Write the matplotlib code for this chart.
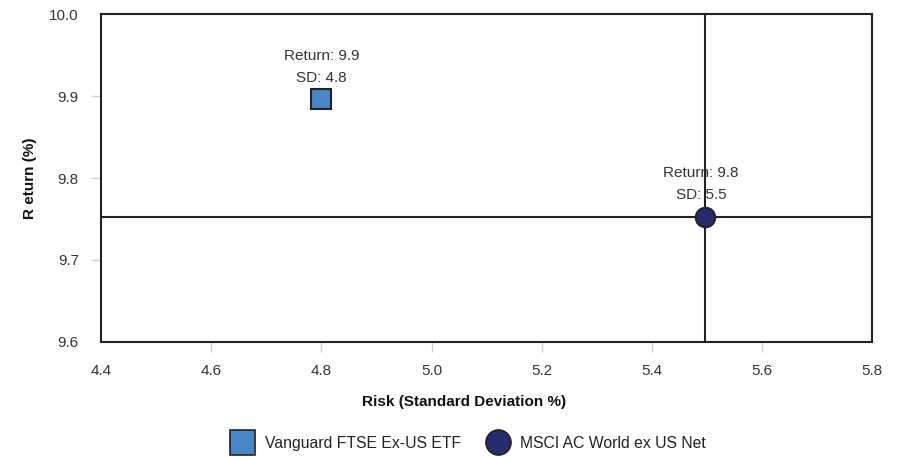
import matplotlib.pyplot as plt
from matplotlib.lines import Line2D

plt.rcParams['font.family'] = ['Liberation Sans', 'DejaVu Sans']

# ---- data ----
names = ["Vanguard FTSE Ex-US ETF", "MSCI AC World ex US Net"]
risk = [4.8, 5.497]
ret = [9.896, 9.753]
markers = ["s", "o"]
colors = ["#4a86c8", "#262a6e"]
xticks = [4.4, 4.6, 4.8, 5.0, 5.2, 5.4, 5.6, 5.8]
yticks = [9.6, 9.7, 9.8, 9.9, 10.0]

fig = plt.figure(figsize=(9.02, 4.57), dpi=100)
ax = fig.add_axes([0.112, 0.252, 0.855, 0.717])

# benchmark crosshair
ax.axvline(risk[1], color="#222222", lw=1.5, zorder=1)
ax.axhline(ret[1], color="#222222", lw=1.5, zorder=1)

for i in range(len(names)):
    ax.plot(risk[i], ret[i], marker=markers[i], ms=14, mfc=colors[i],
            mec="#222222", mew=1.5, ls="none", zorder=3)
    ax.annotate(f"Return: {ret[i]:.1f}", (risk[i], ret[i]), xytext=(-3 * i, 31),
                textcoords="offset points", ha="center", va="center",
                fontsize=11, color="#333333", zorder=4)
    ax.annotate(f"SD: {risk[i]:.1f}", (risk[i], ret[i]), xytext=(-3 * i, 15.5),
                textcoords="offset points", ha="center", va="center",
                fontsize=11, color="#333333", zorder=4)

ax.set_xlim(4.4, 5.8)
ax.set_ylim(9.6, 10.0)
ax.set_xticks(xticks)
ax.set_yticks(yticks)
ax.set_xticklabels([f"{v:.1f}" for v in xticks])
ax.set_yticklabels([f"{v:.1f}" for v in yticks])
ax.tick_params(axis="both", length=7, width=1, color="#d0d0d0",
               labelsize=11, labelcolor="#333333")
ax.tick_params(axis="x", pad=9)
ax.tick_params(axis="y", pad=9)
for t in ax.xaxis.get_major_ticks()[::len(xticks) - 1]:
    t.tick1line.set_visible(False)
for t in ax.yaxis.get_major_ticks()[::len(yticks) - 1]:
    t.tick1line.set_visible(False)

for s in ax.spines.values():
    s.set_color("#222222")
    s.set_linewidth(1.5)

ax.set_xlabel("Risk (Standard Deviation %)", fontsize=11, fontweight="bold",
              color="#111111")
ax.xaxis.set_label_coords(0.471, -0.163)
ax.set_ylabel("R eturn (%)", fontsize=11, fontweight="bold",
              labelpad=9, color="#111111")

handles = [Line2D([], [], marker=markers[i], ls="none", ms=18, mfc=colors[i],
                  mec="#222222", mew=1.2) for i in range(len(names))]
fig.legend(handles, names, loc="center", bbox_to_anchor=(0.519, 0.03), ncol=2,
           frameon=False, fontsize=11.3, handlelength=1.5, handletextpad=0.7,
           columnspacing=1.6, labelcolor="#222222")

fig.savefig("out.png", dpi=100)
